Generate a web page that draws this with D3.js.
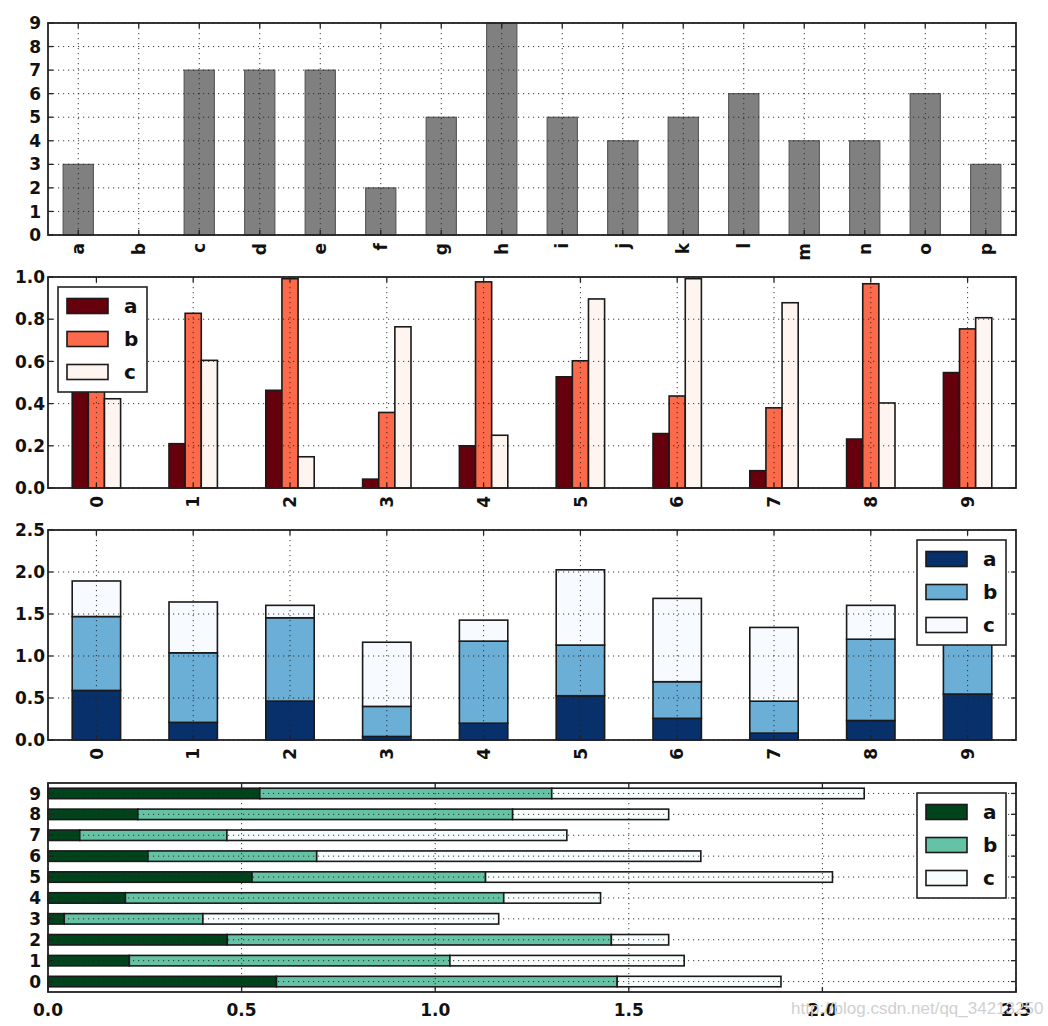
<!DOCTYPE html>
<html>
<head>
<meta charset="utf-8">
<script src="https://cdn.jsdelivr.net/npm/d3@7"></script>
<style>
  html, body { margin: 0; padding: 0; background: #fff; }
  svg { display: block; }
  text { font-family: "DejaVu Sans", sans-serif; font-weight: bold; fill: #111; }
</style>
</head>
<body>
<svg id="chart" width="1048" height="1026"></svg>
<script>
// ---------------- DATA ----------------
const letters = ["a","b","c","d","e","f","g","h","i","j","k","l","m","n","o","p"];
const letterValues = [3, 0, 7, 7, 7, 2, 5, 9, 5, 4, 5, 6, 4, 4, 6, 3];

const groups = ["0","1","2","3","4","5","6","7","8","9"];
const seriesNames = ["a","b","c"];
const seriesA = [0.590, 0.210, 0.463, 0.042, 0.200, 0.527, 0.258, 0.082, 0.232, 0.547];
const seriesB = [0.880, 0.828, 0.992, 0.358, 0.977, 0.603, 0.436, 0.380, 0.968, 0.754];
const seriesC = [0.423, 0.605, 0.148, 0.764, 0.250, 0.896, 0.992, 0.878, 0.403, 0.807];

const yTicks1 = [0,1,2,3,4,5,6,7,8,9];
const yTicks2 = [0.0,0.2,0.4,0.6,0.8,1.0];
const yTicks3 = [0.0,0.5,1.0,1.5,2.0,2.5];
const xTicks4 = [0.0,0.5,1.0,1.5,2.0,2.5];

// ---------------- LAYOUT / STYLE ----------------
const L = 48, R = 1016;
const panels = [
  {top: 23,  bottom: 235},
  {top: 277, bottom: 488},
  {top: 530, bottom: 740},
  {top: 783, bottom: 992}
];
const reds  = ["#67000d", "#fb6a4a", "#fff5f0"];
const blues = ["#08306b", "#6baed6", "#f7fbff"];
const bugn  = ["#00441b", "#66c2a4", "#f7fcfd"];
const TICK = 5;
const FS = 17;

const svg = d3.select("#chart");
const rows = groups.map((g, i) => ({g, a: seriesA[i], b: seriesB[i], c: seriesC[i]}));

function gridV(g, xs, p) {
  g.append("g").selectAll("line").data(xs).join("line")
    .attr("x1", d => d).attr("x2", d => d)
    .attr("y1", p.top).attr("y2", p.bottom)
    .attr("stroke", "#222").attr("stroke-width", 0.9)
    .attr("stroke-dasharray", "1.2,3.8");
}
function gridH(g, ys, p) {
  g.append("g").selectAll("line").data(ys).join("line")
    .attr("y1", d => d).attr("y2", d => d)
    .attr("x1", L).attr("x2", R)
    .attr("stroke", "#222").attr("stroke-width", 0.9)
    .attr("stroke-dasharray", "1.2,3.8");
}
function ticksV(g, xs, p) { // ticks on top and bottom, inward
  const t = g.append("g");
  xs.forEach(x => {
    t.append("line").attr("x1", x).attr("x2", x).attr("y1", p.bottom).attr("y2", p.bottom - TICK)
      .attr("stroke", "#222").attr("stroke-width", 1.3);
    t.append("line").attr("x1", x).attr("x2", x).attr("y1", p.top).attr("y2", p.top + TICK)
      .attr("stroke", "#222").attr("stroke-width", 1.3);
  });
}
function ticksH(g, ys, p) { // ticks on left and right, inward
  const t = g.append("g");
  ys.forEach(y => {
    t.append("line").attr("y1", y).attr("y2", y).attr("x1", L).attr("x2", L + TICK)
      .attr("stroke", "#222").attr("stroke-width", 1.3);
    t.append("line").attr("y1", y).attr("y2", y).attr("x1", R).attr("x2", R - TICK)
      .attr("stroke", "#222").attr("stroke-width", 1.3);
  });
}
function frame(g, p) {
  g.append("rect").attr("x", L).attr("y", p.top).attr("width", R - L).attr("height", p.bottom - p.top)
    .attr("fill", "none").attr("stroke", "#222").attr("stroke-width", 1.8);
}
function yLabels(g, ys, labels, xAnchor) {
  g.append("g").selectAll("text").data(ys).join("text")
    .attr("x", xAnchor).attr("y", d => d).attr("dy", "0.36em")
    .attr("text-anchor", "end").attr("font-size", FS)
    .text((d, i) => labels[i]);
}
function xRotLabels(g, xs, labels, p) {
  g.append("g").selectAll("text").data(xs).join("text")
    .attr("transform", d => `translate(${d},${p.bottom + 8}) rotate(-90)`)
    .attr("text-anchor", "end").attr("dy", "0.36em").attr("font-size", FS)
    .text((d, i) => labels[i]);
}
function legend(g, x, y, colors) {
  const lg = g.append("g").attr("transform", `translate(${x},${y})`);
  lg.append("rect").attr("width", 89).attr("height", 105)
    .attr("fill", "#fff").attr("stroke", "#222").attr("stroke-width", 1.6);
  seriesNames.forEach((n, i) => {
    const cy = 19 + i * 33;
    lg.append("rect").attr("x", 9).attr("y", cy - 7.5).attr("width", 41).attr("height", 15)
      .attr("fill", colors[i]).attr("stroke", "#1a1a1a").attr("stroke-width", 1.6);
    lg.append("text").attr("x", 66).attr("y", cy).attr("dy", "0.36em")
      .attr("font-size", 20).text(n);
  });
}

// ---------------- PANEL 1 ----------------
{
  const p = panels[0];
  const g = svg.append("g");
  const x = d3.scaleBand().domain(letters).range([L, R]).paddingInner(0.5).paddingOuter(0.25);
  const y = d3.scaleLinear().domain([0, 9]).range([p.bottom, p.top]);
  g.append("g").selectAll("rect").data(letters).join("rect")
    .attr("x", d => x(d)).attr("width", x.bandwidth())
    .attr("y", (d, i) => y(letterValues[i]))
    .attr("height", (d, i) => y(0) - y(letterValues[i]))
    .attr("fill", "#808080").attr("stroke", "#555").attr("stroke-width", 1.1);
  const xs = letters.map(d => x(d) + x.bandwidth() / 2);
  const ys = yTicks1.map(d => y(d));
  gridV(g, xs, p); gridH(g, ys, p);
  frame(g, p); ticksV(g, xs, p); ticksH(g, ys, p);
  yLabels(g, ys, yTicks1.map(d => d3.format("d")(d)), 41);
  xRotLabels(g, xs, letters, p);
}

// ---------------- PANEL 2 ----------------
{
  const p = panels[1];
  const g = svg.append("g");
  const x = d3.scaleBand().domain(groups).range([L, R]).paddingInner(0.5).paddingOuter(0.25);
  const xs2 = d3.scaleBand().domain(seriesNames).range([0, x.bandwidth()]);
  const y = d3.scaleLinear().domain([0, 1]).range([p.bottom, p.top]);
  g.append("g").selectAll("g").data(rows).join("g")
    .attr("transform", d => `translate(${x(d.g)},0)`)
    .selectAll("rect").data(d => seriesNames.map((k, i) => ({k, i, v: d[k]}))).join("rect")
    .attr("x", d => xs2(d.k)).attr("width", xs2.bandwidth())
    .attr("y", d => y(d.v)).attr("height", d => y(0) - y(d.v))
    .attr("fill", d => reds[d.i]).attr("stroke", "#1a1a1a").attr("stroke-width", 1.6);
  const xs = groups.map(d => x(d) + x.bandwidth() / 2);
  const ys = yTicks2.map(d => y(d));
  gridV(g, xs, p); gridH(g, ys, p);
  frame(g, p); ticksV(g, xs, p); ticksH(g, ys, p);
  yLabels(g, ys, yTicks2.map(d => d3.format(".1f")(d)), 45);
  xRotLabels(g, xs, groups, p);
  legend(g, 58, 287, reds);
}

// ---------------- PANEL 3 ----------------
{
  const p = panels[2];
  const g = svg.append("g");
  const x = d3.scaleBand().domain(groups).range([L, R]).paddingInner(0.5).paddingOuter(0.25);
  const y = d3.scaleLinear().domain([0, 2.5]).range([p.bottom, p.top]);
  const stack = d3.stack().keys(seriesNames)(rows);
  g.append("g").selectAll("g").data(stack).join("g")
    .attr("fill", (d, i) => blues[i])
    .selectAll("rect").data(d => d).join("rect")
    .attr("x", d => x(d.data.g)).attr("width", x.bandwidth())
    .attr("y", d => y(d[1])).attr("height", d => y(d[0]) - y(d[1]))
    .attr("stroke", "#1a1a1a").attr("stroke-width", 1.6);
  const xs = groups.map(d => x(d) + x.bandwidth() / 2);
  const ys = yTicks3.map(d => y(d));
  gridV(g, xs, p); gridH(g, ys, p);
  frame(g, p); ticksV(g, xs, p); ticksH(g, ys, p);
  yLabels(g, ys, yTicks3.map(d => d3.format(".1f")(d)), 45);
  xRotLabels(g, xs, groups, p);
  legend(g, 917, 540, blues);
}

// ---------------- PANEL 4 ----------------
{
  const p = panels[3];
  const g = svg.append("g");
  const y = d3.scaleBand().domain(groups).range([p.bottom, p.top]).paddingInner(0.5).paddingOuter(0.25);
  const x = d3.scaleLinear().domain([0, 2.5]).range([L, R]);
  const stack = d3.stack().keys(seriesNames)(rows);
  g.append("g").selectAll("g").data(stack).join("g")
    .attr("fill", (d, i) => bugn[i])
    .selectAll("rect").data(d => d).join("rect")
    .attr("y", d => y(d.data.g)).attr("height", y.bandwidth())
    .attr("x", d => x(d[0])).attr("width", d => x(d[1]) - x(d[0]))
    .attr("stroke", "#1a1a1a").attr("stroke-width", 1.6);
  const ys = groups.map(d => y(d) + y.bandwidth() / 2);
  const xs = xTicks4.map(d => x(d));
  gridV(g, xs, p); gridH(g, ys, p);
  frame(g, p); ticksV(g, xs, p); ticksH(g, ys, p);
  // watermark (part of the reference image)
  svg.append("text").attr("x", 791).attr("y", 1014)
    .style("font-family", "'Liberation Sans', Arial, sans-serif").style("font-weight", "normal")
    .style("fill", "#d0d0d0").attr("font-size", 17)
    .text("http://blog.csdn.net/qq_34213250");
  yLabels(g, ys, groups, 41);
  g.append("g").selectAll("text").data(xTicks4).join("text")
    .attr("x", d => x(d)).attr("y", p.bottom + 24)
    .attr("text-anchor", "middle").attr("font-size", FS)
    .text(d => d3.format(".1f")(d));
  legend(g, 917, 793, bugn);
}
</script>
</body>
</html>
